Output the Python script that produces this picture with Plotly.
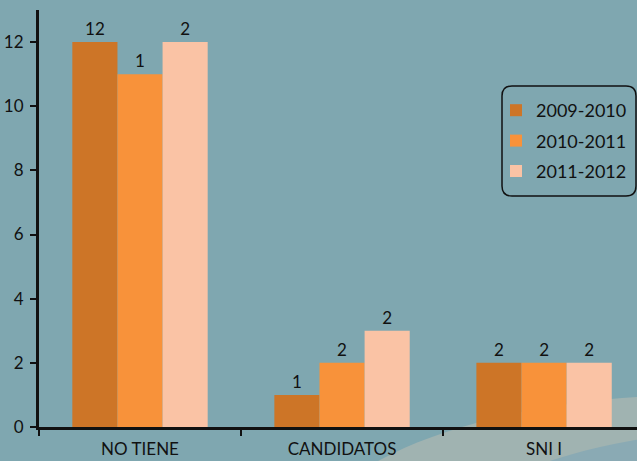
import plotly.graph_objects as go

categories = ["NO TIENE", "CANDIDATOS", "SNI I"]
series_names = ["2009-2010", "2010-2011", "2011-2012"]
values_2009 = [12, 1, 2]
values_2010 = [11, 2, 2]
values_2011 = [12, 3, 2]
labels_2009 = ["12", "1", "2"]
labels_2010 = ["1", "2", "2"]
labels_2011 = ["2", "2", "2"]
colors = ["#CD7527", "#F8923A", "#FAC3A5"]
y_ticks = [0, 2, 4, 6, 8, 10, 12]

BG = "#7FA7B0"
FONT = "Lato, Open Sans, sans-serif"

fig = go.Figure()
for name, vals, labs, col in zip(series_names,
                                 [values_2009, values_2010, values_2011],
                                 [labels_2009, labels_2010, labels_2011], colors):
    fig.add_trace(go.Bar(
        x=categories, y=vals, name=name, legendgroup=name,
        marker=dict(color=col, line=dict(width=0)),
        text=labs, textposition="outside", cliponaxis=False,
        textfont=dict(size=17, color="#111111", family=FONT),
    ))

W, H = 637, 461
ml, mr, mt, mb = 39, 0, 10, 34
pw, ph = W - ml - mr, H - mt - mb

def px(x):
    return (x - ml) / pw

def py(y):
    return (H - mb - y) / ph

# decorative ellipse at bottom right
fig.add_shape(type="circle", xref="paper", yref="paper", layer="below",
              x0=px(300), x1=px(1100), y0=py(720), y1=py(395),
              fillcolor="#A0B3B1", line=dict(width=0))
fig.add_shape(type="circle", xref="paper", yref="paper", layer="below",
              x0=px(420), x1=px(1100), y0=py(720), y1=py(430),
              fillcolor="#8AAAB4", line=dict(width=0))

# rounded legend box
x0, x1, y0, y1, r = px(502), px(636), py(196), py(86), 10
rx, ry = r / pw, r / ph
path = (f"M {x0+rx},{y0} L {x1-rx},{y0} Q {x1},{y0} {x1},{y0+ry} "
        f"L {x1},{y1-ry} Q {x1},{y1} {x1-rx},{y1} L {x0+rx},{y1} "
        f"Q {x0},{y1} {x0},{y1-ry} L {x0},{y0+ry} Q {x0},{y0} {x0+rx},{y0} Z")
fig.add_shape(type="path", path=path, xref="paper", yref="paper",
              line=dict(color="#111111", width=1.5), fillcolor="rgba(0,0,0,0)")

fig.update_layout(
    width=W, height=H,
    margin=dict(l=ml, r=mr, t=mt, b=mb, pad=0),
    paper_bgcolor=BG, plot_bgcolor=BG,
    barmode="group", bargap=0.33, bargroupgap=0,
    font=dict(family=FONT, color="#111111"),
    showlegend=True,
    legend=dict(x=px(496), y=py(92), xanchor="left", yanchor="top",
                bgcolor="rgba(0,0,0,0)", borderwidth=0,
                traceorder="grouped", tracegroupgap=4,
                font=dict(size=18, family=FONT, color="#111111"),
                itemwidth=30),
    xaxis=dict(range=[-0.5, 2.46], showgrid=False, showline=True,
               linecolor="#111111", linewidth=3, ticks="outside",
               tickson="boundaries", ticklen=6, tickwidth=1.5, tickcolor="#111111",
               ticklabelstandoff=5,
               tickfont=dict(size=17, family=FONT, color="#111111")),
    yaxis=dict(range=[0, 13], tickvals=y_ticks, showgrid=False, zeroline=False,
               showline=True, linecolor="#111111", linewidth=3, ticks="outside",
               ticklen=6, tickwidth=1.5, tickcolor="#111111", ticklabelstandoff=3,
               tickfont=dict(size=17, family=FONT, color="#111111")),
)

fig.write_html("out.html", config={"displayModeBar": False},
               post_script="document.body.style.margin='0';")
